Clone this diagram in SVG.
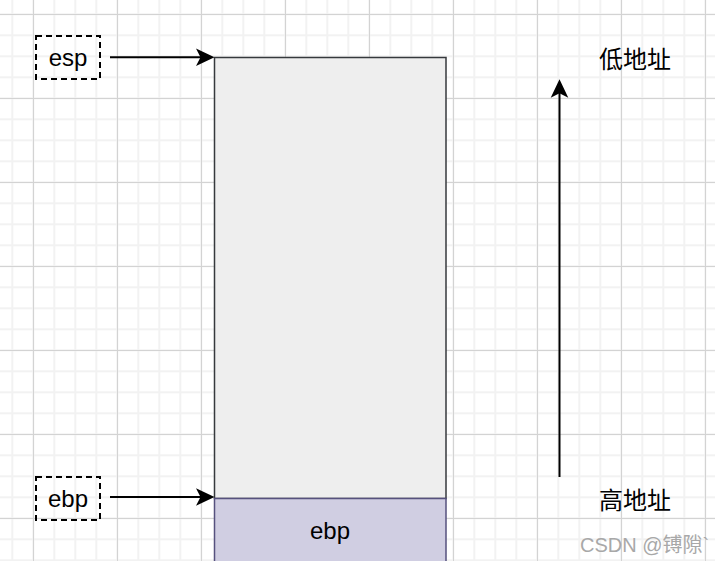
<svg xmlns="http://www.w3.org/2000/svg" width="715" height="561" viewBox="0 0 715 561">
  <style>
    .lbl { font-family: "Liberation Sans", Arial, sans-serif; font-size: 24px; fill: #000; text-anchor: middle; }
    .cjk { font-family: "Noto Sans CJK SC", "Liberation Sans", sans-serif; font-size: 24px; fill: #000; text-anchor: middle; }
    .wm { font-family: "Liberation Sans", "Noto Sans CJK SC", sans-serif; font-size: 20px; fill: #a8a8a8; }
    .dash { fill: none; stroke: #000; stroke-width: 2; stroke-dasharray: 6 4; }
    .conn { stroke: #000; stroke-width: 2; fill: none; }
    .head { fill: #000; stroke: none; }
  </style>
  <defs>
    <pattern id="minor" width="21" height="21" patternUnits="userSpaceOnUse" x="11.3" y="13.3">
      <path d="M0 1H21M1 0V21" stroke="#f2f2f2" stroke-width="2" fill="none"/>
    </pattern>
    <pattern id="major" width="84" height="84" patternUnits="userSpaceOnUse" x="33" y="14">
      <path d="M0 0.5H84M0.5 0V84" stroke="#d3d3d3" stroke-width="1" fill="none"/>
    </pattern>
  </defs>
  <rect id="background" x="0" y="0" width="715" height="561" fill="#fff"/>
  <rect x="0" y="0" width="715" height="561" fill="url(#minor)"/>
  <rect x="0" y="0" width="715" height="561" fill="url(#major)"/>

  <g id="stack">
    <rect x="214.5" y="57.5" width="231.5" height="441" fill="#eeeeee" stroke="#36393d" stroke-width="1.5"/>
  </g>
  <g id="ebp-block">
    <rect x="214.5" y="498.5" width="231.5" height="66" fill="#d0cee2" stroke="#56517e" stroke-width="1.5"/>
    <text class="lbl" x="330" y="539">ebp</text>
  </g>
  <g id="esp-label">
    <rect class="dash" x="36" y="36" width="64" height="43"/>
    <text class="lbl" x="68" y="66">esp</text>
  </g>
  <g id="ebp-label">
    <rect class="dash" x="36" y="477" width="64" height="43"/>
    <text class="lbl" x="68" y="506.5">ebp</text>
  </g>
  <g id="low-address">
    <text class="cjk" x="635" y="68">低地址</text>
  </g>
  <g id="high-address">
    <text class="cjk" x="635" y="509">高地址</text>
  </g>

  <g id="connectors">
    <path class="conn" d="M110 57.3H202"/>
    <path class="head" d="M214.5 57.3L196 48.5L200.5 57.3L196 66Z"/>
    <path class="conn" d="M110 497H202"/>
    <path class="head" d="M214.5 497L196 488.2L200.5 497L196 505.8Z"/>
    <path class="conn" d="M559.5 477V92"/>
    <path class="head" d="M559.5 79.3L550.7 97.8L559.5 93.3L568.3 97.8Z"/>
  </g>

  <text class="wm" x="580" y="552">CSDN @镈隙`</text>
</svg>
